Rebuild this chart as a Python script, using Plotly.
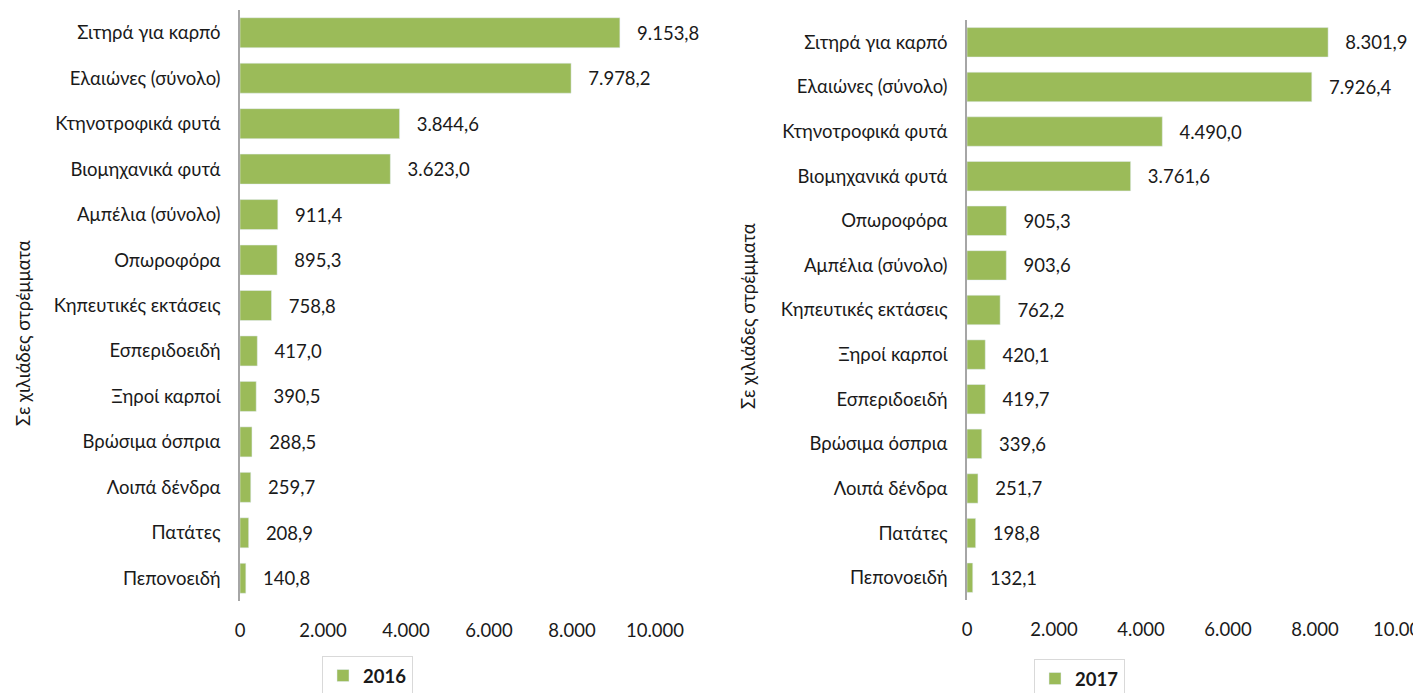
import plotly.graph_objects as go

cats_2016 = ["Σιτηρά για καρπό", "Ελαιώνες (σύνολο)", "Κτηνοτροφικά φυτά", "Βιομηχανικά φυτά",
             "Αμπέλια (σύνολο)", "Οπωροφόρα", "Κηπευτικές εκτάσεις", "Εσπεριδοειδή",
             "Ξηροί καρποί", "Βρώσιμα όσπρια", "Λοιπά δένδρα", "Πατάτες", "Πεπονοειδή"]
vals_2016 = [9153.8, 7978.2, 3844.6, 3623.0, 911.4, 895.3, 758.8, 417.0, 390.5, 288.5, 259.7, 208.9, 140.8]

cats_2017 = ["Σιτηρά για καρπό", "Ελαιώνες (σύνολο)", "Κτηνοτροφικά φυτά", "Βιομηχανικά φυτά",
             "Οπωροφόρα", "Αμπέλια (σύνολο)", "Κηπευτικές εκτάσεις", "Ξηροί καρποί",
             "Εσπεριδοειδή", "Βρώσιμα όσπρια", "Λοιπά δένδρα", "Πατάτες", "Πεπονοειδή"]
vals_2017 = [8301.9, 7926.4, 4490.0, 3761.6, 905.3, 903.6, 762.2, 420.1, 419.7, 339.6, 251.7, 198.8, 132.1]

x_ticks = [0, 2000, 4000, 6000, 8000, 10000]
y_title = "Σε χιλιάδες στρέμματα"

GREEN = "#9BBB59"
FONT = "Lato"
TXT = "#1a1a1a"
FS = 18.5

fig = go.Figure()
fig.add_trace(go.Bar(
    x=vals_2016, y=cats_2016, orientation="h", name="2016",
    marker=dict(color=GREEN), xaxis="x", yaxis="y", legend="legend",
    texttemplate="   %{x:,.1f}", textposition="outside", cliponaxis=False,
    textfont=dict(family=FONT, size=FS, color=TXT), showlegend=True,
))
fig.add_trace(go.Bar(
    x=vals_2017, y=cats_2017, orientation="h", name="2017",
    marker=dict(color=GREEN), xaxis="x2", yaxis="y2", legend="legend2",
    texttemplate="   %{x:,.1f}", textposition="outside", cliponaxis=False,
    textfont=dict(family=FONT, size=FS, color=TXT), showlegend=True,
))

W, H = 1421, 693
OX, OY = 8, 8  # page offset of the figure (body margin)


def px(x):
    return (x - OX) / W


def py(y):
    return 1 - (y - OY) / H


xcommon = dict(range=[0, 10000], tickvals=x_ticks, tickformat=",d", showgrid=False,
               zeroline=False, showline=False, ticks="", automargin=False,
               ticklabelstandoff=16, ticklabeloverflow="allow",
               tickfont=dict(family=FONT, size=FS, color=TXT))
ycommon = dict(autorange="reversed", showgrid=False, zeroline=False, showline=True,
               linecolor="#A6A6A6", linewidth=1.5, ticks="", ticklabelstandoff=14,
               automargin=False,
               tickfont=dict(family=FONT, size=FS, color=TXT))

legcommon = dict(xanchor="left", yanchor="top", xref="paper", yref="paper",
                 bordercolor="#D9D9D9", borderwidth=1, bgcolor="white",
                 font=dict(family=FONT, size=FS, color=TXT, weight="bold"),
                 itemwidth=30)

fig.update_layout(
    width=W, height=H, margin=dict(l=0, r=0, t=0, b=0, autoexpand=False),
    paper_bgcolor="white", plot_bgcolor="white", showlegend=True,
    separators=",.", bargap=0.34,
    xaxis=dict(domain=[px(240), px(655)], anchor="y", **xcommon),
    yaxis=dict(domain=[py(601), py(10)], anchor="x", **ycommon),
    xaxis2=dict(domain=[px(967), px(1402)], anchor="y2", **xcommon),
    yaxis2=dict(domain=[py(600), py(20)], anchor="x2", **ycommon),
    legend=dict(x=px(322), y=py(656), **legcommon),
    legend2=dict(x=px(1034), y=py(659), **legcommon),
    annotations=[
        dict(text=y_title, textangle=-90, x=px(23), y=py(333), xref="paper", yref="paper",
             xanchor="center", yanchor="middle",
             showarrow=False, font=dict(family=FONT, size=FS, color=TXT)),
        dict(text=y_title, textangle=-90, x=px(748), y=py(316), xref="paper", yref="paper",
             xanchor="center", yanchor="middle",
             showarrow=False, font=dict(family=FONT, size=FS, color=TXT)),
    ],
)

fig.write_html("out.html")
